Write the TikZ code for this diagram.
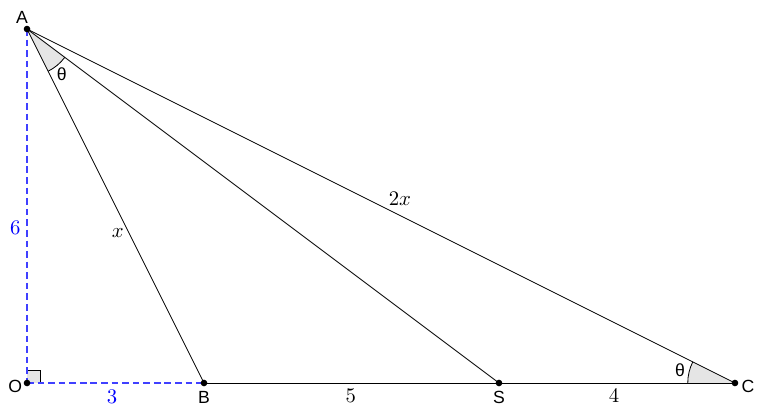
\documentclass[tikz,border=0pt]{standalone}
\usepackage{fontspec}
\newfontfamily\ptfont{Liberation Sans}
\usetikzlibrary{angles}

\begin{document}
\begin{tikzpicture}[every node/.style={inner sep=0pt},
    ptlabel/.style={font=\ptfont\fontsize{8.5}{10}\selectfont},
    dot/.style={circle, fill, inner sep=0pt, minimum size=3.2pt},
    anglemark/.style={draw, fill=gray!20, angle radius=0.8cm},
    axis/.style={blue!75!white, line width=0.8pt, dash pattern=on 3.2pt off 1.9pt}]
    \useasboundingbox (-0.458,-0.475) rectangle (12.492,6.492);

    \coordinate (O) at (0, 0);
    \coordinate (A) at (0, 6);
    \coordinate (B) at (3, 0);
    \coordinate (S) at (8, 0);
    \coordinate (C) at (12, 0);

    % angle marks
    \pic[anglemark] {angle=B--A--S};
    \pic[anglemark] {angle=A--C--B};
    \pic[draw, fill=gray!20, angle radius=0.22cm] {right angle=B--O--A};

    \draw[axis] (A) -- (O);
    \draw[axis] (O) -- (B);
    \draw (A) -- (B);
    \draw (A) -- (S);
    \draw (A) -- (C);
    \draw (B) -- (C);

    \foreach \p in {O, A, B, S, C}
        \node[dot] (d\p) at (\p) {};

    % point names
    \node[ptlabel] (lA) at (-0.085, 6.19) {A};
    \node[ptlabel] (lO) at (-0.2, -0.05) {O};
    \node[ptlabel] (lB) at (3, -0.25) {B};
    \node[ptlabel] (lS) at (8, -0.25) {S};
    \node[ptlabel] (lC) at (12.22, -0.05) {C};
    \node[ptlabel] (tA) at (0.59, 5.24) {θ};
    \node[ptlabel] (tC) at (11.07, 0.22) {θ};

    % lengths
    \node[text=blue] (l6) at (-0.2, 2.63) {$6$};
    \node[text=blue] (l3) at (1.44, -0.24) {$3$};
    \node (l5) at (5.49, -0.22) {$5$};
    \node (l4) at (9.95, -0.22) {$4$};
    \node (lx) at (1.54, 2.54) {$x$};
    \node (l2x) at (6.32, 3.12) {$2x$};
\end{tikzpicture}
\end{document}
